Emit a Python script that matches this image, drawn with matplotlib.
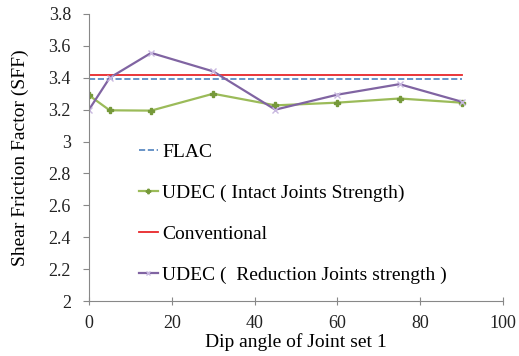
import matplotlib
matplotlib.use('Agg')
import matplotlib.pyplot as plt

# data
dip = [0, 5, 15, 30, 45, 60, 75, 90]
udec_intact = [3.29, 3.196, 3.194, 3.30, 3.227, 3.244, 3.27, 3.244]
udec_reduction = [3.20, 3.40, 3.556, 3.44, 3.20, 3.294, 3.36, 3.25]
flac = [3.39, 3.39]
conventional = [3.417, 3.417]
flat_x = [0, 90]

plt.rcParams['font.family'] = ['Liberation Serif', 'DejaVu Serif']
plt.rcParams['font.size'] = 14

fig = plt.figure(figsize=(5.19, 3.56), dpi=100)
ax = fig.add_axes([89 / 519, 55 / 356, 414 / 519, 287 / 356])

ax.plot(flat_x, flac, color='#4f81bd', linestyle='--', linewidth=1.2, label='FLAC')
ax.plot(dip, udec_intact, color='#9bbb59', linewidth=1.6, marker='P', markersize=4,
        markerfacecolor='#76993a', markeredgecolor='#76993a', label='UDEC ( Intact Joints Strength)')
ax.plot(flat_x, conventional, color='#e8262a', linewidth=1.3, label='Conventional')
ax.plot(dip, udec_reduction, color='#8064a2', linewidth=1.6, marker='x', markersize=4,
        markeredgecolor='#c8b8e0', label='UDEC (  Reduction Joints strength )')

ax.set_xlim(0, 100)
ax.set_ylim(2, 3.8)
ax.set_xticks(range(0, 101, 20))
ax.set_yticks([2, 2.2, 2.4, 2.6, 2.8, 3, 3.2, 3.4, 3.6, 3.8])
ax.set_yticklabels(['2', '2.2', '2.4', '2.6', '2.8', '3', '3.2', '3.4', '3.6', '3.8'])
ax.set_xlabel('Dip angle of Joint set 1', labelpad=1)
ax.set_ylabel('Shear Friction Factor (SFF)', labelpad=14)

for s in ['top', 'right']:
    ax.spines[s].set_visible(False)
for s in ['left', 'bottom']:
    ax.spines[s].set_color('#888888')
ax.tick_params(axis='both', colors='#888888', labelcolor='#222222', labelsize=13)
ax.tick_params(axis='y', length=4, pad=9)
ax.tick_params(axis='x', direction='inout', length=6, pad=7)

ax.legend(loc='center left', bbox_to_anchor=(0.12, 0.305), frameon=False,
          handlelength=1.0, handletextpad=0.2, labelspacing=1.2,
          borderpad=0, borderaxespad=0, markerscale=0.8)

fig.savefig('out.png')
